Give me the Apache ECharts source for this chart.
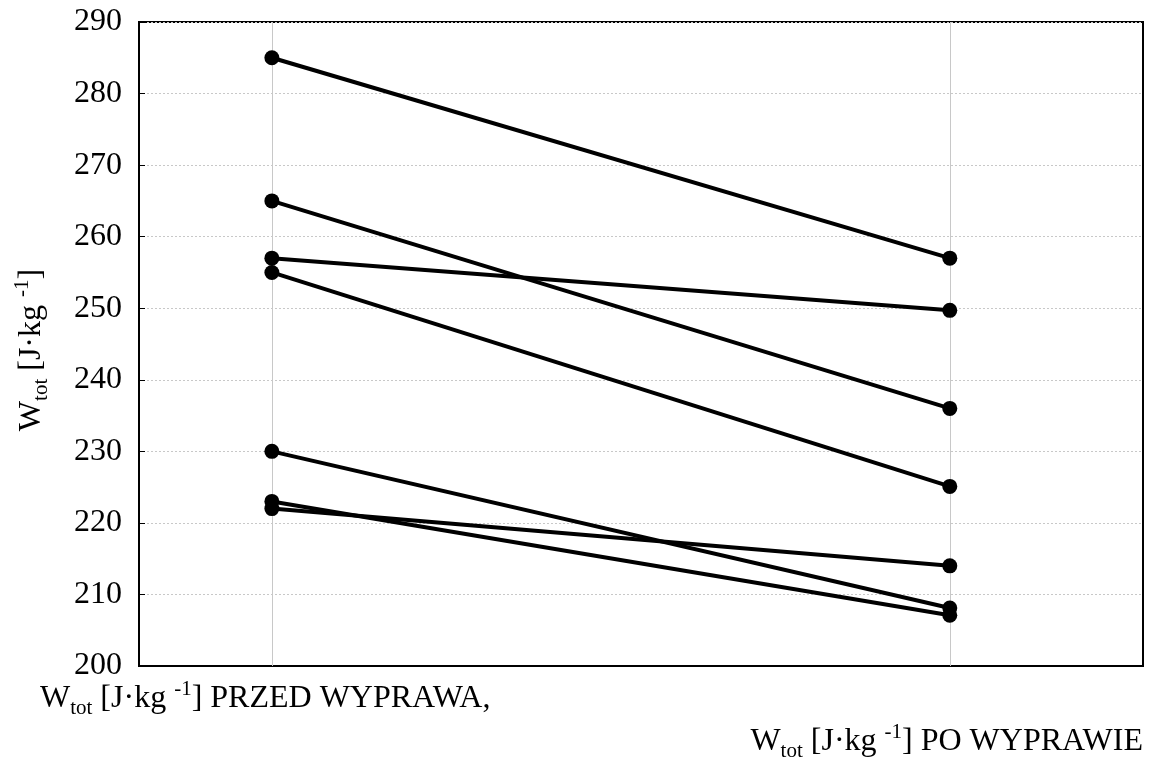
<!DOCTYPE html>
<html>
<head>
<meta charset="utf-8">
<script src="https://cdn.jsdelivr.net/npm/echarts@6/dist/echarts.min.js"></script>
<style>
html,body{margin:0;padding:0;background:#fff;}
#c{width:1165px;height:765px;}
</style>
</head>
<body>
<div id="c"></div>
<script>
// Data
var categories = ['PRZED WYPRAWA', 'PO WYPRAWIE'];
var catPositions = [0, 1];
var before = [285, 265, 257, 255, 230, 223, 222];
var after  = [257, 236, 249.7, 225.1, 208.1, 207.1, 214];
var yTicks = [200, 210, 220, 230, 240, 250, 260, 270, 280, 290];

var FONT = 'Liberation Serif';
var chart = echarts.init(document.getElementById('c'));

var series = before.map(function (b, i) {
  return {
    type: 'line',
    data: [[catPositions[0], b], [catPositions[1], after[i]]],
    symbol: 'circle',
    symbolSize: 15,
    lineStyle: { color: '#000', width: 4 },
    itemStyle: { color: '#000' },
    z: 5,
    silent: true
  };
});
series.push({
  type: 'line',
  data: [],
  silent: true,
  markLine: {
    silent: true,
    symbol: 'none',
    label: { show: false },
    lineStyle: { color: '#c8c8c8', width: 1, type: 'solid' },
    data: catPositions.map(function (p) { return { xAxis: p }; })
  },
  z: 1
});

var rich = {
  m: { fontFamily: FONT, fontSize: 32, color: '#000', lineHeight: 40 },
  sub: { fontFamily: FONT, fontSize: 21, color: '#000', lineHeight: 22, verticalAlign: 'bottom' },
  sup: { fontFamily: FONT, fontSize: 21, color: '#000', lineHeight: 22, verticalAlign: 'top' }
};
function label(txt) {
  return '{m|W}{sub|tot}{m| [J·kg }{sup|-1}{m|]' + txt + '}';
}

chart.setOption({
  animation: false,
  backgroundColor: '#fff',
  grid: {
    left: 139, right: 22, top: 22, bottom: 99,
    outerBoundsMode: 'none',
    containLabel: false,
    show: true, borderColor: '#000', borderWidth: 2, backgroundColor: 'transparent'
  },
  xAxis: {
    type: 'value',
    min: -0.196, max: 1.285,
    axisLine: { show: true, onZero: false, lineStyle: { color: '#000', width: 2 } },
    axisTick: { show: true, inside: true, length: 6, customValues: catPositions, lineStyle: { color: '#000', width: 1 } },
    axisLabel: { show: false },
    splitLine: { show: false }
  },
  yAxis: {
    type: 'value',
    min: yTicks[0], max: yTicks[yTicks.length - 1], interval: 10,
    axisLine: { show: true, onZero: false, lineStyle: { color: '#000', width: 2 } },
    axisTick: { show: true, inside: true, length: 6, lineStyle: { color: '#000', width: 1 } },
    axisLabel: { fontFamily: FONT, fontSize: 32, color: '#000', margin: 17 },
    splitLine: { show: true, lineStyle: { color: '#c8c8c8', type: [2, 2], width: 1 } },
    name: label(''),
    nameLocation: 'middle',
    nameRotate: 90,
    nameGap: 87,
    nameTextStyle: { rich: rich, padding: [0, 12, 0, 0] }
  },
  graphic: [
    {
      type: 'text', left: 40, top: 679,
      style: { text: label(' PRZED WYPRAWA,'), rich: rich }
    },
    {
      type: 'text', right: 22, top: 722,
      style: { text: label(' PO WYPRAWIE'), rich: rich }
    }
  ],
  series: series
});
</script>
</body>
</html>
